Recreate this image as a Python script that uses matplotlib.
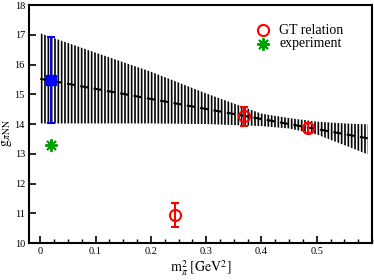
import matplotlib
matplotlib.use('Agg')
import matplotlib.pyplot as plt
from matplotlib.ticker import MultipleLocator

plt.rcParams['font.family'] = 'Liberation Serif'
plt.rcParams['mathtext.fontset'] = 'stix'
plt.rcParams['hatch.linewidth'] = 1.2

# band of the linear fit
band_x = [0.0, 0.1, 0.2, 0.3, 0.4, 0.45, 0.5, 0.55, 0.592]
band_hi = [17.05, 16.4, 15.76, 15.03, 14.35, 14.2, 14.08, 14.02, 13.99]
band_lo = [14.02, 14.02, 14.02, 14.0, 13.93, 13.85, 13.65, 13.29, 12.98]

fit_x = [0.0, 0.592]
fit_y = [15.52, 13.52]

# lattice point at the physical mass
lat_x = [0.02]
lat_y = [15.47]
lat_lo = [14.02]
lat_hi = [16.91]

# GT relation
gt_x = [0.244, 0.368, 0.484]
gt_y = [10.95, 14.27, 13.86]
gt_lo = [10.55, 13.94, 13.70]
gt_hi = [11.36, 14.58, 14.03]

exp_x = [0.02]
exp_y = [13.29]

fig = plt.figure(figsize=(3.74, 2.80), dpi=100)
ax = fig.add_axes([0.078, 0.132, 0.917, 0.850])

ax.fill_between(band_x, band_lo, band_hi, facecolor='none', edgecolor='k',
                hatch='|||||', linewidth=0)
ax.plot(fit_x, fit_y, color='k', lw=1.5, dashes=(4, 2.5))

yerr = [[y - l for y, l in zip(lat_y, lat_lo)], [h - y for y, h in zip(lat_y, lat_hi)]]
ax.errorbar(lat_x, lat_y, yerr=yerr, fmt='s', color='#0000ff', ms=6.5,
            elinewidth=1.5, capsize=3, capthick=1.5)

yerr = [[y - l for y, l in zip(gt_y, gt_lo)], [h - y for y, h in zip(gt_y, gt_hi)]]
ax.errorbar(gt_x, gt_y, yerr=yerr, fmt='o', color='#ff0000', mfc='none', ms=8,
            mew=1.5, elinewidth=1.5, capsize=3, capthick=1.5)

ax.plot(exp_x, exp_y, linestyle='none', marker=(8, 2, 0), color='#00a000',
        ms=9, mew=1.4)

# legend
ax.plot([0.402], [17.16], linestyle='none', marker='o', mfc='none', mec='#ff0000',
        ms=8, mew=1.5)
ax.text(0.432, 17.16, 'GT relation', fontsize=10, va='center')
ax.plot([0.402], [16.7], linestyle='none', marker=(8, 2, 0), color='#00a000',
        ms=9, mew=1.4)
ax.text(0.432, 16.7, 'experiment', fontsize=10, va='center')

ax.set_xlim(-0.02, 0.6)
ax.set_ylim(10, 18)
ax.xaxis.set_minor_locator(MultipleLocator(0.025))
ax.yaxis.set_major_locator(MultipleLocator(1))
ax.set_xticks([0, 0.1, 0.2, 0.3, 0.4, 0.5])
ax.set_xticklabels(['0', '0.1', '0.2', '0.3', '0.4', '0.5'])
ax.tick_params(direction='in', labelsize=7.5, width=1.2, length=5, pad=3)
ax.tick_params(which='minor', direction='in', width=1.0, length=3)
for s in ax.spines.values():
    s.set_linewidth(1.5)

ax.set_xlabel(r'$\mathrm{m}_{\pi}^{2}\ [\mathrm{GeV}^{2}]$', fontsize=10, labelpad=2)
ax.set_ylabel(r'$\mathrm{g}_{\pi\mathrm{NN}}$', fontsize=10)
ax.yaxis.set_label_coords(-0.045, 0.46)

fig.savefig('out.png', dpi=100)
